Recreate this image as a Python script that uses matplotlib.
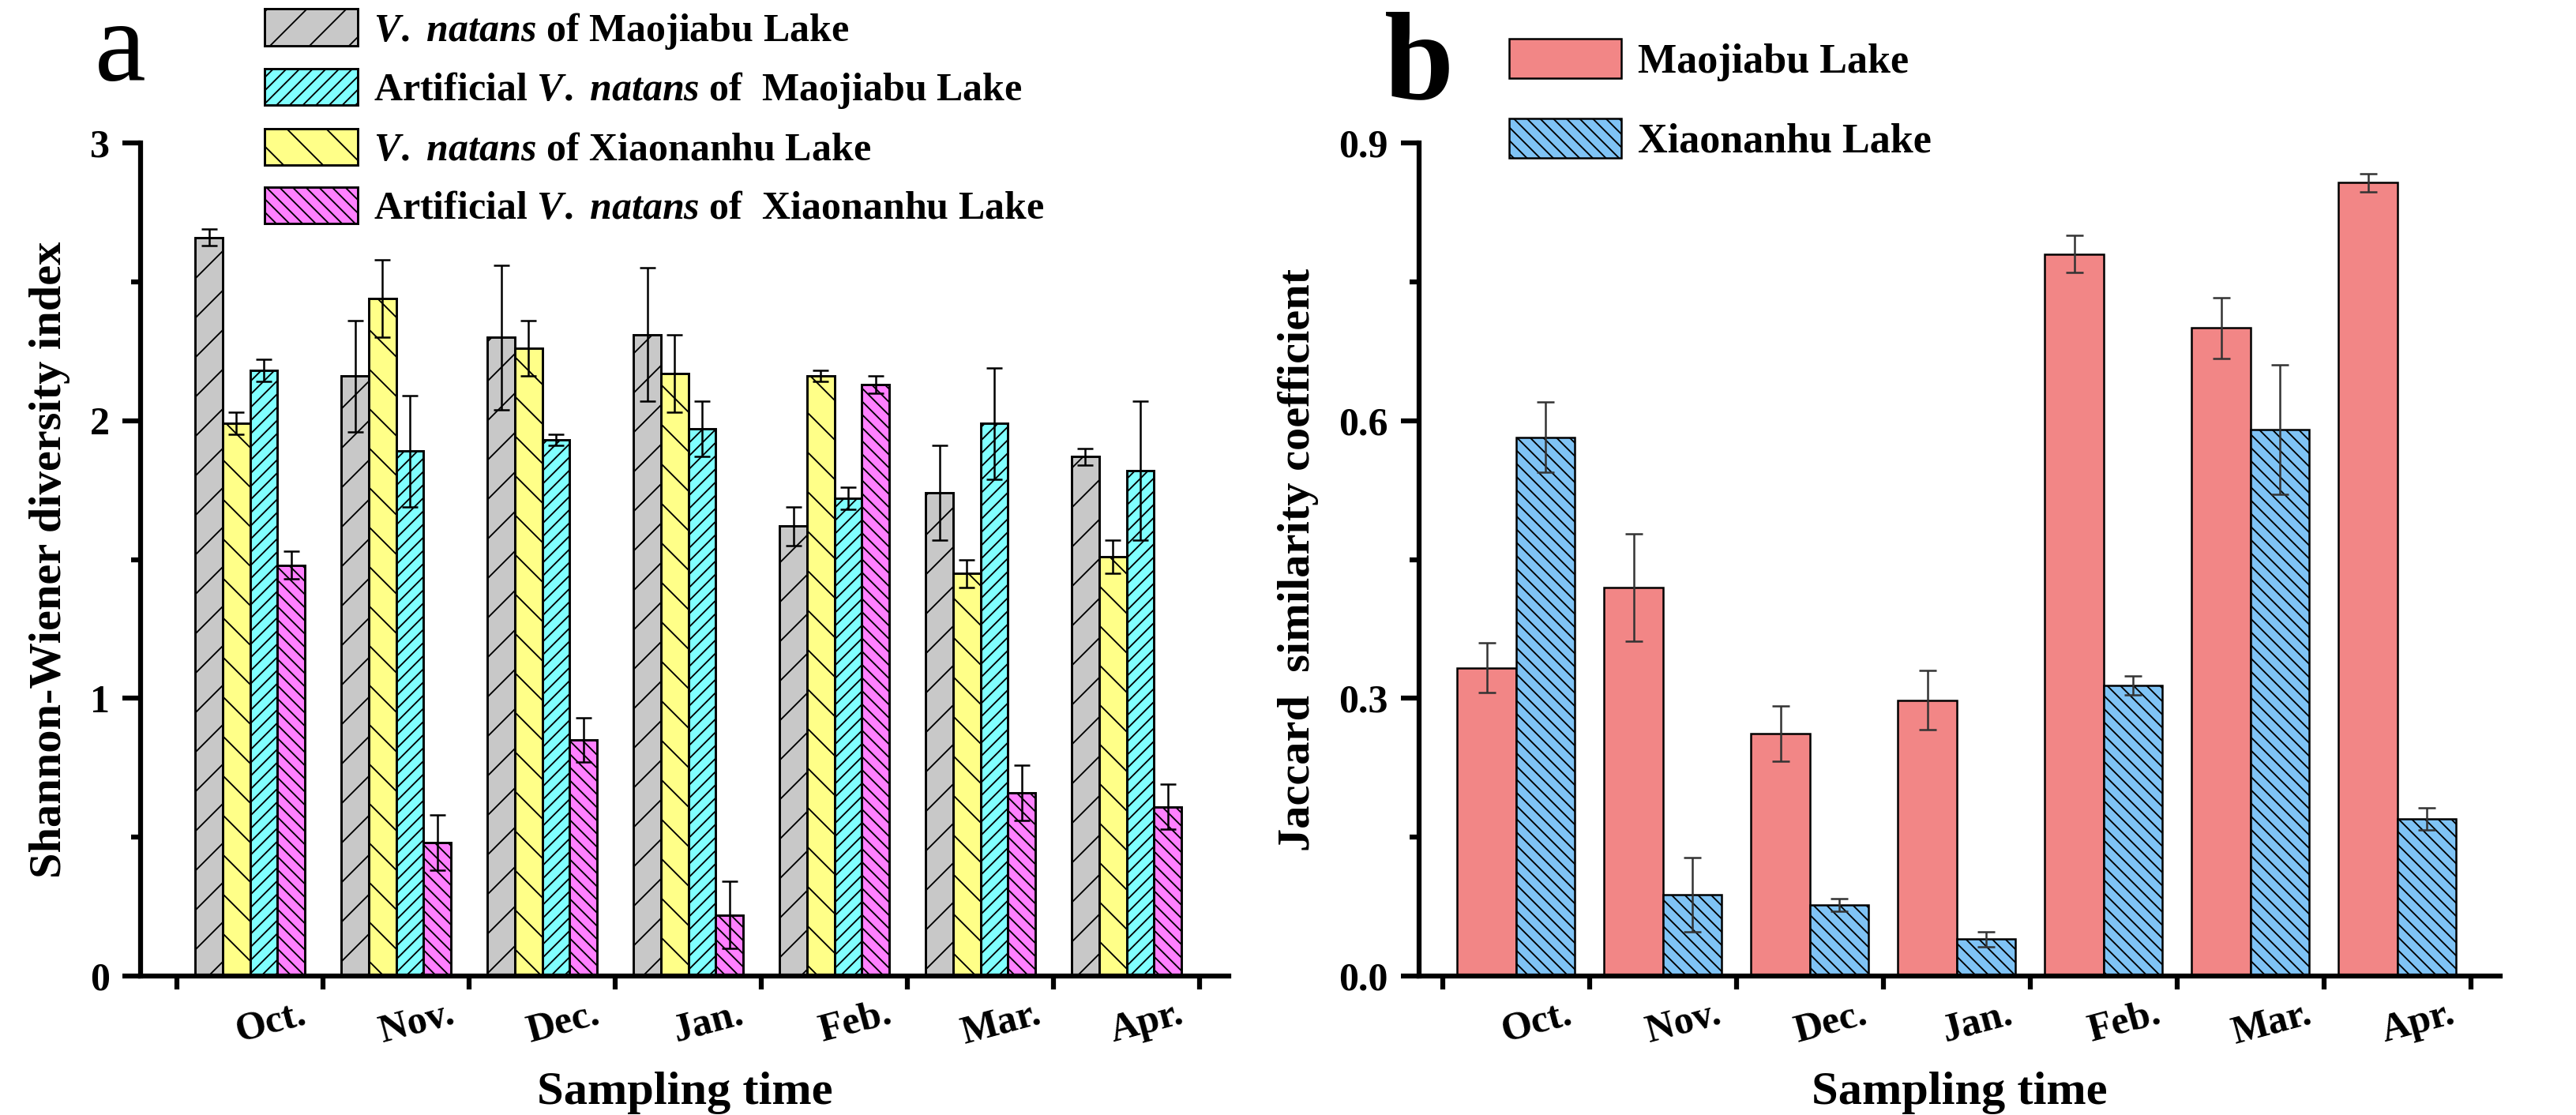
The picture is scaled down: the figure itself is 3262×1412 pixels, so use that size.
import numpy as np
import matplotlib.pyplot as plt
from matplotlib.ticker import MultipleLocator, FixedLocator, FormatStrFormatter

# шрифты: Liberation Serif ~ Times New Roman
plt.rcParams['font.family'] = ['Liberation Serif', 'DejaVu Serif']
plt.rcParams['font.weight'] = 'bold'
plt.rcParams['mathtext.fontset'] = 'custom'
plt.rcParams['mathtext.it'] = 'Liberation Serif:italic:bold'
plt.rcParams['mathtext.rm'] = 'Liberation Serif:bold'
plt.rcParams['hatch.linewidth'] = 0.9

months = ['Oct.', 'Nov.', 'Dec.', 'Jan.', 'Feb.', 'Mar.', 'Apr.']

# панель a - индекс Шеннона-Винера
vn_mao = [2.66, 2.16, 2.30, 2.31, 1.62, 1.74, 1.87]
vn_mao_err = [0.03, 0.20, 0.26, 0.24, 0.07, 0.17, 0.03]
vn_xia = [1.99, 2.44, 2.26, 2.17, 2.16, 1.45, 1.51]
vn_xia_err = [0.04, 0.14, 0.10, 0.14, 0.02, 0.05, 0.06]
art_mao = [2.18, 1.89, 1.93, 1.97, 1.72, 1.99, 1.82]
art_mao_err = [0.04, 0.20, 0.02, 0.10, 0.04, 0.20, 0.25]
art_xia = [1.48, 0.48, 0.85, 0.22, 2.13, 0.66, 0.61]
art_xia_err = [0.05, 0.10, 0.08, 0.12, 0.03, 0.10, 0.08]

# панель b - коэффициент Жаккара
jac_mao = [0.333, 0.420, 0.262, 0.298, 0.780, 0.700, 0.857]
jac_mao_err = [0.027, 0.058, 0.030, 0.032, 0.020, 0.033, 0.010]
jac_xia = [0.582, 0.088, 0.077, 0.040, 0.314, 0.590, 0.170]
jac_xia_err = [0.038, 0.040, 0.007, 0.008, 0.010, 0.070, 0.012]

fig = plt.figure(figsize=(3262 / 150, 1412 / 150), dpi=150)
ax_a = fig.add_axes([0.0546, 0.1246, 0.4224, 0.7472])
ax_b = fig.add_axes([0.5509, 0.1246, 0.4197, 0.7472])

x = np.arange(len(months))


def style_axes(ax, ymax, ystep, ylabel):
    for s in ['top', 'right']:
        ax.spines[s].set_visible(False)
    for s in ['left', 'bottom']:
        ax.spines[s].set_linewidth(3)
    ax.set_xlim(-0.25, 7.2)
    ax.set_ylim(0, ymax)
    # подписи месяцев чуть правее центра группы
    ax.set_xticks(x + 0.64)
    ax.set_xticklabels(months, rotation=15, fontsize=24, fontweight='bold')
    ax.tick_params(axis='x', which='major', length=0, pad=12)
    ax.xaxis.set_minor_locator(FixedLocator(np.arange(0, 8)))
    ax.tick_params(axis='x', which='minor', length=8, width=3, direction='out')
    ax.yaxis.set_major_locator(MultipleLocator(ystep))
    ax.yaxis.set_minor_locator(MultipleLocator(ystep / 2))
    ax.tick_params(axis='y', which='major', length=11, width=3, labelsize=24, pad=8)
    ax.tick_params(axis='y', which='minor', length=6, width=3)
    ax.set_xlabel('Sampling time', fontsize=29, fontweight='bold', labelpad=12)
    ax.set_ylabel(ylabel, fontsize=28, fontweight='bold', labelpad=12)


# ---- панель a ----
series_a = [
    (vn_mao, vn_mao_err, '#C8C8C8', '/', r'$V.\ natans$ of Maojiabu Lake'),
    (vn_xia, vn_xia_err, '#FFFF88', '\\', r'$V.\ natans$ of Xiaonanhu Lake'),
    (art_mao, art_mao_err, '#80FFFF', '///', r'Artificial $V.\ natans$ of  Maojiabu Lake'),
    (art_xia, art_xia_err, '#FF80FF', '\\\\\\', r'Artificial $V.\ natans$ of  Xiaonanhu Lake'),
]
w = 0.1875
handles_a = []
for k, (vals, errs, col, hat, lab) in enumerate(series_a):
    pos = x + 0.125 + w * (k + 0.5)
    bars = ax_a.bar(pos, vals, w, color=col, edgecolor='black', linewidth=1.4,
                    hatch=hat, label=lab, zorder=2)
    ax_a.errorbar(pos, vals, yerr=errs, fmt='none', ecolor='black',
                  elinewidth=1.2, capsize=5, capthick=1.2, zorder=3)
    handles_a.append(bars)

style_axes(ax_a, 3, 1, 'Shannon-Wiener diversity index')

# порядок в легенде: серый, голубой, жёлтый, розовый
order = [0, 2, 1, 3]
fig.legend([handles_a[i] for i in order], [series_a[i][4] for i in order],
           loc='upper left', bbox_to_anchor=(0.1027, 0.992), frameon=False,
           prop={'size': 24, 'weight': 'bold'}, handlelength=2.36,
           handleheight=1.05, labelspacing=0.45, handletextpad=0.4,
           borderpad=0, borderaxespad=0)

# ---- панель b ----
bw = 0.4
b1 = ax_b.bar(x + 0.3, jac_mao, bw, color='#F28686', edgecolor='black',
              linewidth=1.2, label='Maojiabu Lake', zorder=2)
ax_b.errorbar(x + 0.3, jac_mao, yerr=jac_mao_err, fmt='none', ecolor='#333333',
              elinewidth=1.2, capsize=5.5, capthick=1.2, zorder=3)
b2 = ax_b.bar(x + 0.7, jac_xia, bw, color='#7FC3F5', edgecolor='black',
              linewidth=1.2, hatch='\\\\\\', label='Xiaonanhu Lake', zorder=2)
ax_b.errorbar(x + 0.7, jac_xia, yerr=jac_xia_err, fmt='none', ecolor='#333333',
              elinewidth=1.2, capsize=5.5, capthick=1.2, zorder=3)

style_axes(ax_b, 0.9, 0.3, 'Jaccard  similarity coefficient')
ax_b.set_xlim(-0.16, 7.2)
ax_b.yaxis.set_major_formatter(FormatStrFormatter('%.1f'))

fig.legend([b1, b2], ['Maojiabu Lake', 'Xiaonanhu Lake'], loc='upper left',
           bbox_to_anchor=(0.5858, 0.965), frameon=False,
           prop={'size': 25, 'weight': 'bold'}, handlelength=2.73,
           handleheight=1.1, labelspacing=0.9, handletextpad=0.4,
           borderpad=0, borderaxespad=0)

# буквы панелей
fig.text(0.0466, 0.928, 'a', fontsize=70, fontweight='normal', ha='center', va='baseline')
fig.text(0.551, 0.912, 'b', fontsize=76, fontweight='bold', ha='center', va='baseline')

fig.savefig('out.png', dpi=150)
